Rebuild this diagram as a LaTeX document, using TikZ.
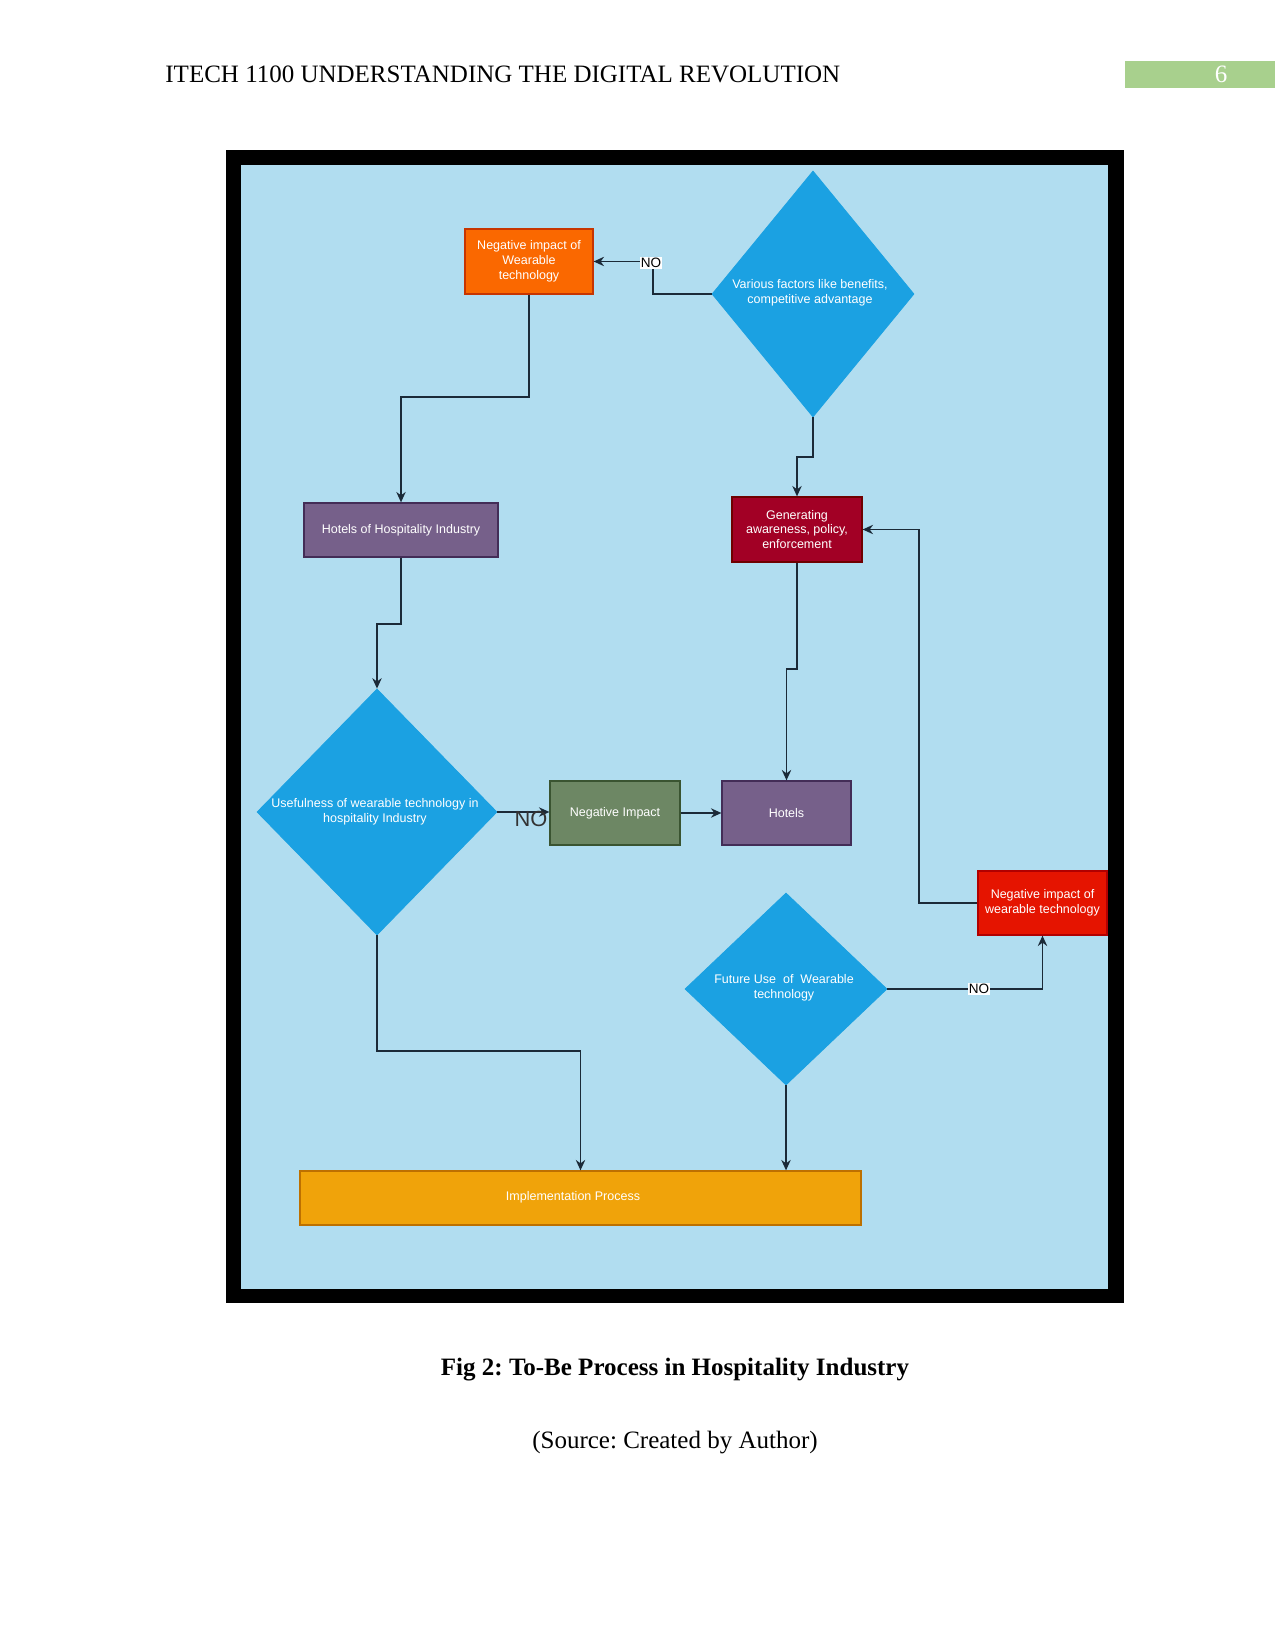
\documentclass[tikz,border=0pt]{standalone}
\usepackage{fontspec}
\setmainfont{Liberation Serif}
\newfontfamily\diagfont{Liberation Sans}
\usetikzlibrary{shapes.geometric,arrows.meta}
\frenchspacing
\definecolor{bgblue}{HTML}{B1DDF0}
\definecolor{cBlue}{HTML}{1BA1E2}
\definecolor{cOrange}{HTML}{FA6800}
\definecolor{cOrangeD}{HTML}{C73500}
\definecolor{cPurple}{HTML}{76608A}
\definecolor{cPurpleD}{HTML}{432D57}
\definecolor{cCrimson}{HTML}{A20025}
\definecolor{cCrimsonD}{HTML}{6F0000}
\definecolor{cGreen}{HTML}{6D8764}
\definecolor{cGreenD}{HTML}{3A5431}
\definecolor{cRed}{HTML}{E51400}
\definecolor{cRedD}{HTML}{B20000}
\definecolor{cAmber}{HTML}{F0A30A}
\definecolor{cAmberD}{HTML}{BD7000}
\definecolor{cLine}{HTML}{1B2A38}
\definecolor{cHdr}{HTML}{A8D08D}
\newcommand\pxu{0.48pt}
\begin{document}
\begin{tikzpicture}[x=0.48pt,y=-0.48pt,
  sz/.style 2 args={minimum width=#1*\pxu, minimum height=#2*\pxu},
  box/.style={rectangle, draw, line width=0.6pt, text=white, align=center, inner sep=0pt,
    font=\diagfont\fontsize{6}{7.1}\selectfont},
  dia/.style={diamond, fill=cBlue, draw=cBlue, inner sep=0pt},
  dtxt/.style={text=white, align=center, inner sep=0pt, font=\diagfont\fontsize{6}{7.1}\selectfont},
  conn/.style={draw=cLine, line width=0.7pt, -{Stealth[length=5pt,width=4.5pt]}},
  nolab/.style={fill=white, text=black, inner sep=0.6pt, font=\diagfont\fontsize{6.5}{7}\selectfont},
  bigno/.style={text=black!80, inner sep=0pt, font=\diagfont\fontsize{10.5}{12}\selectfont}]
\useasboundingbox (0,0) rectangle (1275,1650);
\fill[white] (0,0) rectangle (1275,1650);
% header
\node[anchor=base west, inner sep=0pt, font=\fontsize{12}{14}\selectfont] (hdr) at (165,83) {ITECH 1100 UNDERSTANDING THE DIGITAL REVOLUTION};
\node[anchor=north west, fill=cHdr, inner sep=0pt, sz={150}{27}] (pg) at (1125,61) {};
\node[anchor=base, inner sep=0pt, text=white, font=\fontsize{12}{14}\selectfont] (pgnum) at (1221,83) {6};
% frame
\fill[black] (226,150) rectangle (1124,1303);
\fill[bgblue] (241,165) rectangle (1108,1289);
% nodes
\node[box, fill=cOrange, draw=cOrangeD, sz={128}{65}] (neg1) at (529,261.5) {Negative impact of\\Wearable\\technology};
\node[dia, sz={202}{246}] (v1) at (813,294) {};
\node[dtxt] (v1t) at (810,293) {Various factors like benefits,\\competitive advantage};
\node[box, fill=cPurple, draw=cPurpleD, sz={194}{54}] (hh) at (401,530) {Hotels of Hospitality Industry};
\node[box, fill=cCrimson, draw=cCrimsonD, sz={130}{65}] (gen) at (797,529.5) {Generating\\awareness, policy,\\enforcement};
\node[dia, sz={240}{246}] (use) at (377,812) {};
\node[dtxt] (uset) at (375,812) {Usefulness of wearable technology in\\hospitality Industry};
\node[box, fill=cGreen, draw=cGreenD, sz={130}{64}] (negi) at (615,813) {Negative Impact};
\node[box, fill=cPurple, draw=cPurpleD, sz={129}{64}] (hot) at (786.5,813) {Hotels};
\node[box, fill=cRed, draw=cRedD, sz={129}{64}] (red) at (1042.5,903) {Negative impact of\\wearable technology};
\node[dia, sz={202}{192}] (fut) at (786,989) {};
\node[dtxt] (futt) at (784,988) {Future Use~ of~ Wearable\\technology};
\node[box, fill=cAmber, draw=cAmberD, sz={561}{54}] (imp) at (580.5,1198) {};
\node[dtxt] (impt) at (573,1197) {Implementation Process};
% bends
\coordinate (b1) at (653,294);
\coordinate (b2) at (529,397);
\coordinate (b3) at (813,457);
\coordinate (b4) at (401,624);
\coordinate (b7) at (797,669);
\coordinate (b8) at (919,903);
\coordinate (b9) at (1042.5,989);
\coordinate (b11) at (377,1051);
% connectors
\draw[conn] (v1.west) -- (b1) |- (neg1.east);
\node[nolab] (no1) at (651,263) {NO};
\draw[conn] (neg1.south) -- (b2) -| (hh.north);
\draw[conn] (v1.south) -- (b3) -| (gen.north);
\draw[conn] (hh.south) -- (b4) -| (use.north);
\draw[conn] (use.east) -- (use.east -| negi.west);
\node[bigno] (no2) at (531,819) {NO};
\draw[conn] (negi.east) -- (hot.west);
\draw[conn] (gen.south) -- (b7) -| (hot.north);
\draw[conn] (red.west) -- (b8) |- (gen.east);
\draw[conn] (fut.east) -- (b9) -- (red.south);
\node[nolab] (no3) at (979,989) {NO};
\draw[conn] (fut.south) -- (fut.south |- imp.north);
\draw[conn] (use.south) -- (b11) -| (imp.north);
% caption
\node[anchor=base, inner sep=0pt, font=\bfseries\fontsize{12}{14}\selectfont] (cap) at (675,1375) {Fig 2: To-Be Process in Hospitality Industry};
\node[anchor=base, inner sep=0pt, font=\fontsize{12}{14}\selectfont] (src) at (675,1448) {(Source: Created by Author)};
\end{tikzpicture}
\end{document}
